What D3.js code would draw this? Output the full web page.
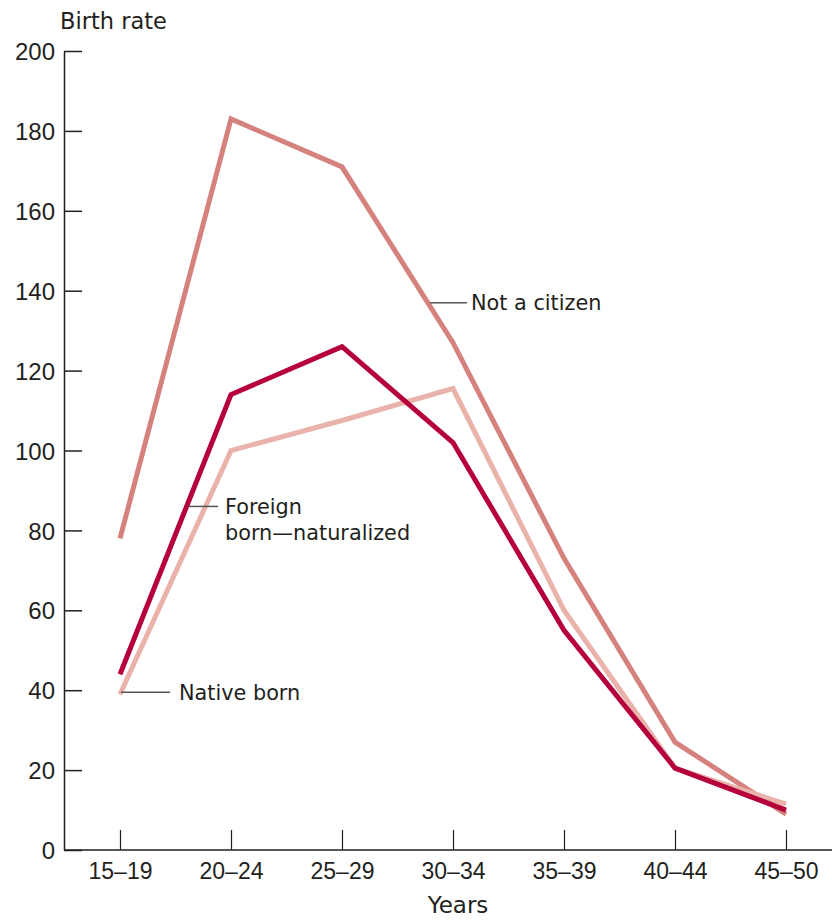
<!DOCTYPE html>
<html>
<head>
<meta charset="utf-8">
<script src="https://cdn.jsdelivr.net/npm/d3@7"></script>
<style>
  body { margin: 0; background: #fff; }
  svg { display: block; font-family: "DejaVu Sans", sans-serif; }
  .tick text { fill: #231f20; }
</style>
</head>
<body>
<svg id="chart" width="832" height="920"></svg>
<script>
  var ageGroups = ["15–19", "20–24", "25–29", "30–34", "35–39", "40–44", "45–50"];
  var yTicks = [0, 20, 40, 60, 80, 100, 120, 140, 160, 180, 200];

  var notCitizen = [78, 183, 171, 127, 73, 27, 9];
  var naturalized = [44, 114, 126, 102, 55, 20.5, 10];
  var nativeBorn = [39, 100, 107.5, 115.5, 60, 20.5, 11.5];

  var seriesColors = ["#d5827f", "#e9b2aa", "#b5003b"];

  var svg = d3.select("#chart");

  var x = d3.scalePoint().domain(ageGroups).range([120, 786]);
  var y = d3.scaleLinear().domain([0, 200]).range([850, 51]);

  // y axis, ticks pointing inward
  var yAxis = svg.append("g").attr("transform", "translate(64,0)")
    .call(d3.axisRight(y).tickValues(yTicks).tickSize(18).tickSizeOuter(0).tickFormat(d3.format("d")));
  yAxis.select(".domain").attr("stroke", "#231f20").attr("stroke-width", 1.5);
  yAxis.selectAll(".tick line").attr("stroke", "#231f20").attr("stroke-width", 1.5);
  yAxis.selectAll(".tick text")
    .attr("x", -9).attr("text-anchor", "end")
    .attr("font-size", 24).attr("dy", "0.36em");

  // x axis, ticks pointing up
  var xAxis = svg.append("g").attr("transform", "translate(0,850)")
    .call(d3.axisBottom(x).tickSize(-20).tickSizeOuter(0));
  xAxis.select(".domain").attr("d", "M64,0H832").attr("stroke", "#231f20").attr("stroke-width", 1.5);
  xAxis.selectAll(".tick line").attr("stroke", "#231f20").attr("stroke-width", 1.2);
  xAxis.selectAll(".tick text").attr("y", 13).attr("font-size", 23).attr("dy", "0.71em");

  svg.append("text").attr("x", 60).attr("y", 29)
    .attr("font-size", 22.5).attr("fill", "#231f20").text("Birth rate");
  svg.append("text").attr("x", 458).attr("y", 913).attr("text-anchor", "middle")
    .attr("font-size", 23).attr("fill", "#231f20").text("Years");

  var line = d3.line()
    .x(function (d, i) { return x(ageGroups[i]); })
    .y(function (d) { return y(d); });

  [notCitizen, nativeBorn, naturalized].forEach(function (values, i) {
    svg.append("path")
      .datum(values)
      .attr("d", line)
      .attr("fill", "none")
      .attr("stroke", seriesColors[i])
      .attr("stroke-width", 5)
      .attr("stroke-linejoin", "miter");
  });

  // labels with leader lines (start/end x in px, level in data units)
  var notes = [
    { x0: 430, x1: 467, tx: 471, v: 137, lines: ["Not a citizen"] },
    { x0: 188, x1: 218, tx: 225, v: 86, lines: ["Foreign", "born—naturalized"] },
    { x0: 121, x1: 170, tx: 179, v: 39.5, lines: ["Native born"] }
  ];
  notes.forEach(function (n) {
    var yy = y(n.v);
    svg.append("line").attr("x1", n.x0).attr("x2", n.x1)
      .attr("y1", yy).attr("y2", yy)
      .attr("stroke", "#555").attr("stroke-width", 1.5);
    var t = svg.append("text").attr("font-size", 20.8).attr("fill", "#231f20");
    n.lines.forEach(function (s, k) {
      t.append("tspan").attr("x", n.tx).attr("y", yy + 7.5 + k * 26).text(s);
    });
  });
</script>
</body>
</html>
